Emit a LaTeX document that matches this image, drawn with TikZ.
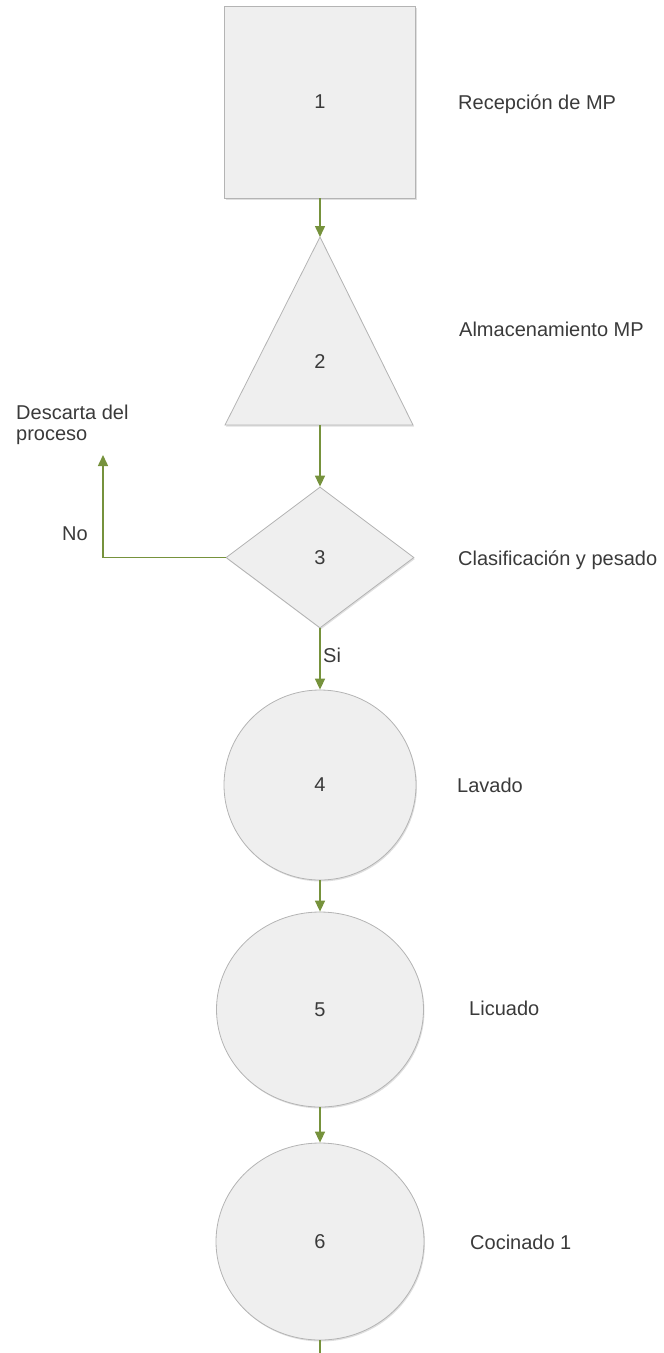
\documentclass[tikz,border=0pt]{standalone}
\usepackage{fontspec}
\setmainfont{Liberation Sans}
\usetikzlibrary{arrows.meta,shapes.geometric,shadows}
\definecolor{flowgreen}{HTML}{76923C}
\definecolor{boxfill}{HTML}{EFEFEF}
\definecolor{boxline}{HTML}{B4B4B4}
\definecolor{txt}{HTML}{3A3A3A}

\begin{document}
\begin{tikzpicture}[x=1pt,y=-1pt,
  every node/.style={font=\fontsize{20}{24}\selectfont, text=txt},
  stage/.style={draw=boxline, fill=boxfill, line width=0.8pt, inner sep=0pt,
    drop shadow={shadow xshift=1pt, shadow yshift=-1.5pt, opacity=0.25}},
  flow/.style={draw=flowgreen, line width=1.5pt, -{Triangle[length=11pt,width=10pt]}},
  plainflow/.style={draw=flowgreen, line width=1.5pt},
  sidetext/.style={anchor=base west, inner sep=0pt},
]
\useasboundingbox (0,0) rectangle (664,1353);

% process stages
\node[stage, rectangle, minimum width=191pt, minimum height=192pt] (n1) at (320,102) {1};

\path[stage] (320,237) -- (413,425) -- (225,425) -- cycle;
\coordinate (n2top) at (320,237);
\coordinate (n2base) at (320,425);
\node (n2) at (320,362) {2};

\node[stage, diamond, minimum width=188pt, minimum height=141pt] (n3) at (320,557.5) {3};

\node[stage, ellipse, minimum width=192pt, minimum height=190pt] (n4) at (320,785) {4};
\node[stage, ellipse, minimum width=207pt, minimum height=195pt] (n5) at (320,1009.5) {5};
\node[stage, ellipse, minimum width=208pt, minimum height=197pt] (n6) at (320,1241.5) {6};

% connectors
\coordinate (discard) at (103,455);
\coordinate (tail) at (320,1353);
\draw[flow] (n1.south) -- (n2top);
\draw[flow] (n2base) -- (n3.north);
\draw[flow] (n3.west) -| (discard);
\draw[flow] (n3.south) -- (n4.north);
\draw[flow] (n4.south) -- (n5.north);
\draw[flow] (n5.south) -- (n6.north);
\draw[plainflow] (n6.south) -- (tail);

% stage names and branch labels
\node[sidetext] (t1) at (458,109) {Recepción de MP};
\node[sidetext] (t2) at (459,336) {Almacenamiento MP};
\node[sidetext] (t3) at (458,565) {Clasificación y pesado};
\node[sidetext] (t4) at (457,792) {Lavado};
\node[sidetext] (t5) at (469,1015) {Licuado};
\node[sidetext] (t6) at (470,1249) {Cocinado 1};
\node[sidetext] (d1) at (16,419) {Descarta del};
\node[sidetext] (d2) at (16,440) {proceso};
\node[sidetext] (no) at (62,540) {No};
\node[sidetext] (si) at (323,662) {Si};
\end{tikzpicture}
\end{document}
